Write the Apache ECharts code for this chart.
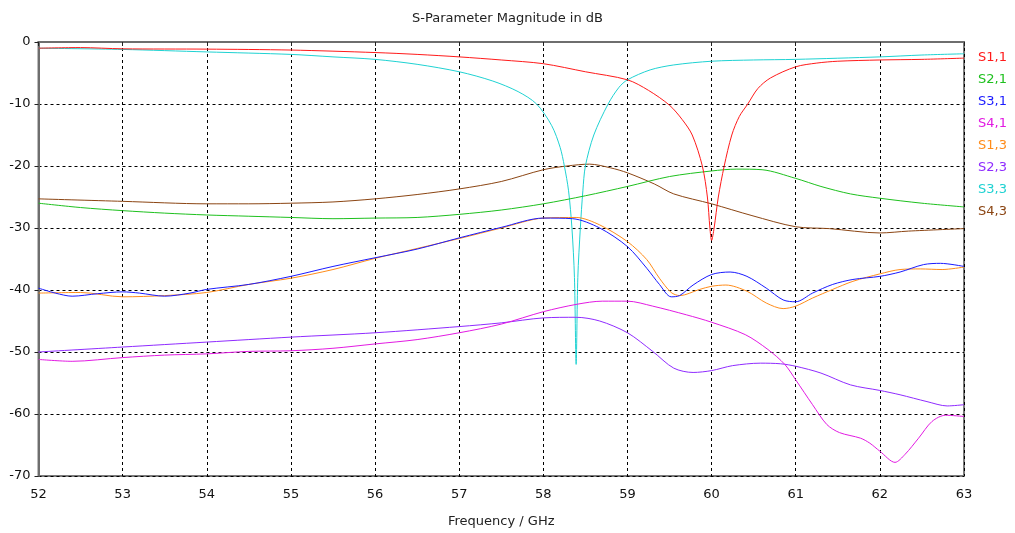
<!DOCTYPE html>
<html>
<head>
<meta charset="utf-8">
<script src="https://cdn.jsdelivr.net/npm/echarts@6/dist/echarts.min.js"></script>
<style>
  html, body { margin: 0; padding: 0; background: #fff; }
  #chart { width: 1015px; height: 533px; }
</style>
</head>
<body>
<div id="chart"></div>
<script>
// 数据: 频率 (GHz) 与幅度 (dB)
var s11Freq = [52, 52.5, 53, 54, 55, 56, 56.5, 57, 57.5, 58, 58.5, 59, 59.25, 59.5, 59.65, 59.77, 59.89, 59.95, 59.98, 60, 60.03, 60.08, 60.15, 60.24, 60.33, 60.43, 60.55, 60.7, 61, 61.25, 61.5, 62, 62.5, 63];
var s11Db = [-1.0, -0.9, -1.1, -1.15, -1.3, -1.7, -2.0, -2.4, -2.9, -3.5, -4.8, -6.1, -7.8, -10.2, -12.5, -15, -20, -25, -30, -32, -30, -25, -20, -15, -12, -10, -7.5, -5.8, -4.0, -3.4, -3.1, -2.9, -2.8, -2.6];

var s21Freq = [52, 52.5, 53, 53.5, 54, 54.5, 55, 55.5, 56, 56.5, 57, 57.5, 58, 58.5, 59, 59.5, 60, 60.3, 60.6, 61, 61.3, 61.65, 62, 62.5, 63];
var s21Db = [-26.0, -26.7, -27.2, -27.6, -27.9, -28.1, -28.3, -28.5, -28.4, -28.3, -27.8, -27.1, -26.1, -24.8, -23.3, -21.7, -20.8, -20.5, -20.6, -22.0, -23.3, -24.5, -25.2, -26.0, -26.6];

var s31Freq = [52, 52.2, 52.4, 52.7, 53, 53.2, 53.5, 53.8, 54, 54.5, 55, 55.5, 56, 56.5, 57, 57.5, 58, 58.35, 58.67, 59, 59.23, 59.38, 59.52, 59.62, 59.78, 60, 60.22, 60.42, 60.65, 60.85, 61, 61.2, 61.44, 61.68, 62, 62.24, 62.52, 62.72, 63];
var s31Db = [-39.7, -40.5, -41.0, -40.6, -40.3, -40.5, -41.0, -40.5, -39.9, -39.1, -37.8, -36.2, -34.8, -33.4, -31.6, -29.9, -28.4, -28.5, -30, -33, -36.5, -39.1, -41.1, -40.9, -39.2, -37.5, -37.1, -37.8, -39.7, -41.6, -41.9, -40.5, -39.1, -38.3, -37.8, -37.1, -35.9, -35.7, -36.2];

var s41Freq = [52, 52.4, 53, 53.5, 54, 54.5, 55, 55.5, 56, 56.5, 57, 57.5, 58, 58.4, 58.7, 59, 59.3, 59.7, 60, 60.4, 60.67, 60.87, 61, 61.2, 61.37, 61.52, 61.77, 61.88, 62, 62.18, 62.3, 62.46, 62.62, 62.78, 63];
var s41Db = [-51.2, -51.5, -50.9, -50.5, -50.3, -49.9, -49.8, -49.4, -48.7, -48.0, -46.9, -45.5, -43.5, -42.3, -41.8, -41.8, -42.6, -44.0, -45.2, -47.2, -49.6, -52, -54.5, -58.5, -61.7, -63.0, -63.9, -64.7, -66.0, -67.8, -66.5, -63.9, -61.2, -60.2, -60.4];

var s13Freq = [52, 52.5, 53, 53.5, 54, 54.5, 55, 55.5, 56, 56.5, 57, 57.5, 58, 58.39, 58.67, 59, 59.23, 59.38, 59.52, 59.62, 59.86, 60, 60.17, 60.42, 60.65, 60.85, 61, 61.2, 61.44, 61.68, 62, 62.24, 62.48, 62.74, 63];
var s13Db = [-40.5, -40.4, -41.1, -40.9, -40.4, -39.1, -38.1, -36.7, -34.9, -33.3, -31.7, -30.0, -28.4, -28.3, -29.5, -32.2, -35.1, -38.1, -40.4, -40.9, -39.9, -39.4, -39.2, -40.2, -42.1, -43.0, -42.6, -41.3, -39.9, -38.6, -37.4, -36.7, -36.6, -36.7, -36.3];

var s23Freq = [52, 53, 54, 55, 56, 57, 57.5, 58, 58.39, 58.67, 59, 59.3, 59.55, 59.78, 60, 60.25, 60.58, 60.82, 61, 61.3, 61.65, 62, 62.24, 62.56, 62.8, 63];
var s23Db = [-50.0, -49.2, -48.4, -47.6, -46.9, -45.9, -45.3, -44.5, -44.4, -45.0, -46.9, -49.9, -52.6, -53.3, -53.0, -52.2, -51.8, -51.9, -52.3, -53.4, -55.3, -56.2, -56.9, -58.0, -58.7, -58.5];

var s33Freq = [52, 53, 54, 55, 55.5, 56, 56.5, 57, 57.4, 57.7, 57.92, 58.1, 58.2, 58.25, 58.3, 58.34, 58.37, 58.39, 58.41, 58.44, 58.47, 58.5, 58.6, 58.77, 58.9, 59, 59.27, 59.55, 60, 60.5, 61, 62, 62.5, 63];
var s33Db = [-1.0, -1.2, -1.6, -2.0, -2.4, -2.8, -3.6, -4.8, -6.3, -8.0, -10.0, -13.5, -17, -20, -24, -30, -38, -52, -38, -30, -24, -20, -15, -10, -7.3, -6.1, -4.5, -3.7, -3.1, -2.9, -2.8, -2.4, -2.1, -1.9];

var s43Freq = [52, 53, 54, 54.5, 55, 55.5, 56, 56.5, 57, 57.5, 58, 58.28, 58.55, 58.8, 59, 59.32, 59.55, 60, 60.48, 61, 61.4, 62, 62.34, 63];
var s43Db = [-25.3, -25.7, -26.1, -26.1, -26.0, -25.8, -25.3, -24.6, -23.7, -22.5, -20.6, -20.0, -19.7, -20.3, -21.1, -22.9, -24.5, -26.1, -28.0, -29.8, -30.1, -30.8, -30.5, -30.1];

var names = ['S1,1', 'S2,1', 'S3,1', 'S4,1', 'S1,3', 'S2,3', 'S3,3', 'S4,3'];
var colors = ['#ff1a1a', '#1ec01e', '#1a1aff', '#e21ae2', '#ff8c1a', '#8f2bff', '#1fd2d2', '#8b4513'];
var freqs = [s11Freq, s21Freq, s31Freq, s41Freq, s13Freq, s23Freq, s33Freq, s43Freq];
var dbs = [s11Db, s21Db, s31Db, s41Db, s13Db, s23Db, s33Db, s43Db];

var xTicks = { min: 52, max: 63, interval: 1 };
var yTicks = { min: -70, max: 0, interval: 10 };

(function () {
	var myChart = echarts.init(document.getElementById('chart'));
	var fontFamily = 'DejaVu Sans';

	// 组合成 [x, y] 点
	var series = names.map(function (name, i) {
		return {
			name: name,
			type: 'line',
			data: freqs[i].map(function (f, k) { return [f, dbs[i][k]]; }),
			showSymbol: false,
			smooth: 0.3,
			lineStyle: { color: colors[i], width: 1 },
			itemStyle: { color: colors[i] },
			z: 10 - i
		};
	});

	var option = {
		animation: false,
		backgroundColor: '#fff',
		title: {
			text: 'S-Parameter Magnitude in dB',
			left: 'center',
			top: 7,
			textStyle: { fontFamily: fontFamily, fontSize: 13, fontWeight: 'normal', color: '#222' }
		},
		legend: {
			orient: 'vertical',
			left: 967,
			top: 46,
			itemWidth: 1,
			itemHeight: 14,
			itemGap: 8.4,
			selectedMode: false,
			textStyle: { fontFamily: fontFamily, fontSize: 13 },
			data: names.map(function (n, i) {
				return { name: n, icon: 'none', textStyle: { color: colors[i] } };
			})
		},
		grid: {
			left: 38.5,
			right: 51,
			top: 42,
			bottom: 54.5,
			show: true,
			borderColor: '#7a7a7a',
			borderWidth: 2
		},
		xAxis: {
			type: 'value',
			min: xTicks.min,
			max: xTicks.max,
			interval: xTicks.interval,
			name: 'Frequency / GHz',
			nameLocation: 'middle',
			nameGap: 39,
			nameTextStyle: { fontFamily: fontFamily, fontSize: 13, color: '#222' },
			axisLine: { lineStyle: { color: '#6e6e6e', width: 2 } },
			axisTick: { show: true, length: 4, lineStyle: { color: '#222' } },
			axisLabel: { fontFamily: fontFamily, fontSize: 13, color: '#111', margin: 12 },
			splitLine: { show: true, lineStyle: { color: '#000', type: [3, 3], width: 1 } }
		},
		yAxis: {
			type: 'value',
			min: yTicks.min,
			max: yTicks.max,
			interval: yTicks.interval,
			axisLine: { show: true, lineStyle: { color: '#6e6e6e', width: 2 } },
			axisTick: { show: true, length: 4, lineStyle: { color: '#222' } },
			axisLabel: { fontFamily: fontFamily, fontSize: 13, color: '#111', margin: 8 },
			splitLine: { show: true, lineStyle: { color: '#000', type: [3, 3], width: 1 } }
		},
		series: series
	};

	myChart.setOption(option);
})();
</script>
</body>
</html>
